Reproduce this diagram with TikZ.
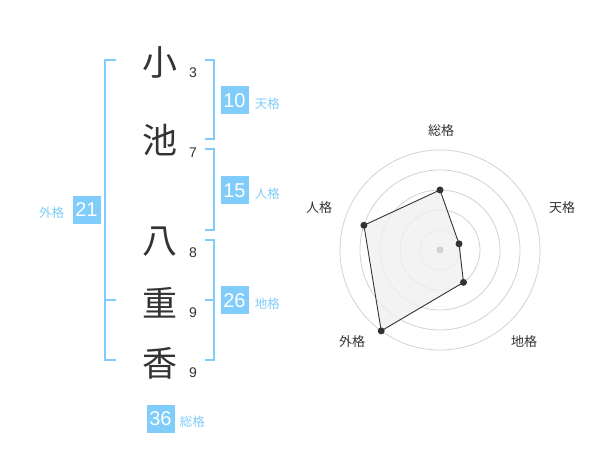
\documentclass[tikz,border=0pt]{standalone}
\usepackage{fontspec}
\setmainfont{Liberation Sans}
\newfontfamily\jp{Noto Sans CJK JP}
\usetikzlibrary{positioning,calc}
\definecolor{sky}{RGB}{128,204,250}
\definecolor{ink}{RGB}{51,51,51}
\definecolor{grid}{RGB}{210,210,210}
\tikzset{k/.style={font=\jp\fontsize{35}{35}\selectfont,text=ink,inner sep=0},
            s/.style={font=\fontsize{14}{14}\selectfont,text=ink,inner sep=0},
            v/.style={fill=sky,text=white,minimum size=28,inner sep=0,font=\fontsize{20}{20}\selectfont},
            l/.style={font=\jp\fontsize{12.5}{12.5}\selectfont,text=sky,inner sep=0},
            r/.style={font=\jp\fontsize{13}{13}\selectfont,text=ink,inner sep=0},
            br/.style={draw=sky,line width=2},
            d/.style={circle,fill=ink,inner sep=0,minimum size=7}}
\begin{document}
\begin{tikzpicture}[x=1pt,y=-1pt]
\useasboundingbox (0,0) rectangle (600,470);
% name
\node[k] at (160,62)(n1){小};
\node[k] at (160,140)(n2){池};
\node[k] at (160,242)(n3){八};
\node[k] at (160,303)(n4){重};
\node[k] at (160,363)(n5){香};
\node[s] at (193,73)(s1){3};
\node[s] at (193,153)(s2){7};
\node[s] at (193,253)(s3){8};
\node[s] at (193,313)(s4){9};
\node[s] at (193,373)(s5){9};
% brackets
\draw[br] (116,60) -- (105,60) -- (105,360) -- (116,360);
\draw[br] (105,300) -- (116,300);
\draw[br] (205,60) -- (214,60) -- (214,139) -- (205,139);
\draw[br] (205,149) -- (214,149) -- (214,230) -- (205,230);
\draw[br] (205,240) -- (214,240) -- (214,360) -- (205,360);
\draw[br] (205,300) -- (214,300);
% scores
\node[v] at (234.5,100.5)(t){10};
\node[v] at (234.5,190.5)(h){15};
\node[v] at (234.5,300.5)(c){26};
\node[v] at (86.5,210)(g){21};
\node[v] at (160.5,419)(a){36};
\node[l, right=6 of t, yshift=-3]{天格};
\node[l, right=6 of h, yshift=-3]{人格};
\node[l, right=6 of c, yshift=-3]{地格};
\node[l, left=8 of g, yshift=-3]{外格};
\node[l, right=5 of a, yshift=-3]{総格};
% radar
\coordinate (o) at (440,250);
\foreach \r in {20,40,60,80,100}
  \draw[grid, line width=0.8] (o) circle (\r);
\coordinate (p1) at ($(o)+(-90:60)$);
\coordinate (p2) at ($(o)+(-18:20)$);
\coordinate (p3) at ($(o)+(54:40)$);
\coordinate (p4) at ($(o)+(126:100)$);
\coordinate (p5) at ($(o)+(198:80)$);
\draw[ink, fill=black!6, fill opacity=0.8, line width=0.9] (p1) -- (p2) -- (p3) -- (p4) -- (p5) -- cycle;
\foreach \i in {1,...,5}
  \node[d] at (p\i){};
\node[circle,fill=grid,inner sep=0,minimum size=7] at (o){};
\node[r] at (441,131){総格};
\node[r] at (562,208){天格};
\node[r] at (524,342){地格};
\node[r] at (352,342){外格};
\node[r] at (319,208){人格};
\end{tikzpicture}
\end{document}
